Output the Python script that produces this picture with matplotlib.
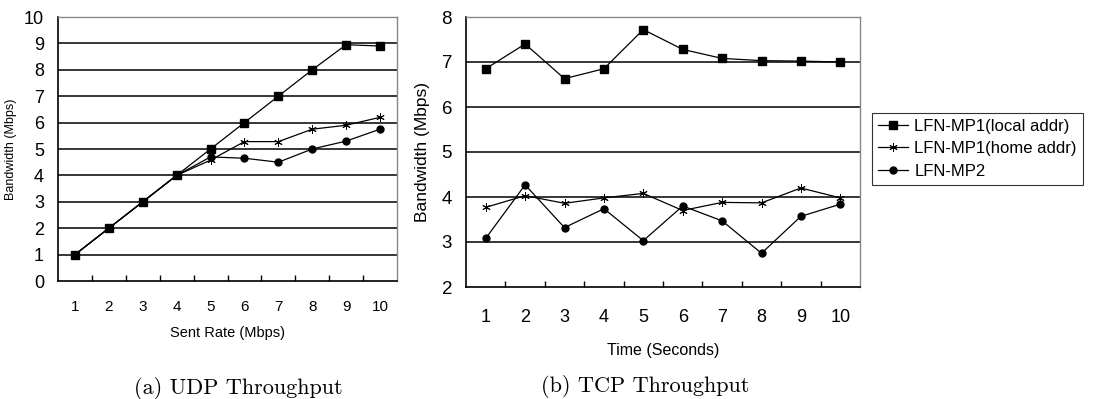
import matplotlib
matplotlib.use('Agg')
from matplotlib import pyplot as plt
import numpy as np

NARROW = ['Liberation Sans Narrow', 'Liberation Sans', 'DejaVu Sans']

# UDP throughput (a)
udp_rate = [1, 2, 3, 4, 5, 6, 7, 8, 9, 10]
udp_local = [1.0, 2.0, 3.0, 4.0, 5.0, 6.0, 7.0, 8.0, 8.95, 8.9]
udp_home = [1.0, 2.0, 3.0, 4.0, 4.58, 5.28, 5.28, 5.75, 5.9, 6.2]
udp_mp2 = [1.0, 2.0, 3.0, 4.0, 4.7, 4.65, 4.5, 5.0, 5.3, 5.75]

# TCP throughput (b)
tcp_time = [1, 2, 3, 4, 5, 6, 7, 8, 9, 10]
tcp_local = [6.85, 7.4, 6.63, 6.85, 7.72, 7.28, 7.08, 7.03, 7.02, 7.0]
tcp_home = [3.77, 4.03, 3.86, 3.98, 4.08, 3.7, 3.88, 3.87, 4.2, 3.98]
tcp_mp2 = [3.08, 4.27, 3.32, 3.74, 3.03, 3.8, 3.47, 2.75, 3.57, 3.84]

series_names = ['LFN-MP1(local addr)', 'LFN-MP1(home addr)', 'LFN-MP2']
markers = ['s', (6, 2, 0), 'o']
msizes = [6, 6, 5]
medges = [1, 0.7, 1]


def style_axes(ax, ymin, ymax, tick_size, xlabel_size, xpad):
    ax.set_xlim(0.5, 10.5)
    ax.set_ylim(ymin, ymax)
    ax.set_yticks(range(ymin, ymax + 1))
    ax.set_xticks(range(1, 11))
    ax.set_xticks(np.arange(1.5, 10.5, 1), minor=True)
    ax.tick_params(axis='x', which='major', length=0, pad=xpad, labelsize=xlabel_size)
    ax.tick_params(axis='x', which='minor', direction='in', length=4, width=1)
    ax.tick_params(axis='y', length=0, pad=10, labelsize=tick_size)
    for lab in ax.get_xticklabels() + ax.get_yticklabels():
        lab.set_family(NARROW)
    for y in range(ymin + 1, ymax):
        ax.axhline(y, color='black', lw=1.1, zorder=1)
    ax.spines['left'].set_color('black')
    ax.spines['bottom'].set_color('black')
    ax.spines['left'].set_linewidth(1.2)
    ax.spines['bottom'].set_linewidth(1.2)
    for s in ['top', 'right']:
        ax.spines[s].set_color('#888888')
        ax.spines[s].set_linewidth(1.0)


fig = plt.figure(figsize=(10.97, 3.99), dpi=100)

ax1 = fig.add_axes([58 / 1097, 1 - 281 / 399, 339 / 1097, 264 / 399])
for vals, m, ms, me in zip([udp_local, udp_home, udp_mp2], markers, msizes, medges):
    ax1.plot(udp_rate, vals, color='black', lw=0.9, marker=m, markersize=ms,
             markeredgewidth=me, zorder=3)
style_axes(ax1, 0, 10, 13, 11, 14)
ax1.set_xlabel('Sent Rate (Mbps)', family=NARROW, fontsize=10.5, labelpad=8)
ax1.set_ylabel('Bandwidth (Mbps)', family=NARROW, fontsize=9, labelpad=5)

ax2 = fig.add_axes([466 / 1097, 1 - 287 / 399, 394 / 1097, 270 / 399])
lines = []
for vals, m, ms, me in zip([tcp_local, tcp_home, tcp_mp2], markers, msizes, medges):
    ln, = ax2.plot(tcp_time, vals, color='black', lw=0.9, marker=m, markersize=ms,
                   markeredgewidth=me, zorder=3)
    lines.append(ln)
style_axes(ax2, 2, 8, 13.5, 13, 16)
ax2.set_xlabel('Time (Seconds)', family=NARROW, fontsize=11.5, labelpad=12)
ax2.set_ylabel('Bandwidth (Mbps)', family=NARROW, fontsize=12.5, labelpad=8)

leg = fig.legend(lines, series_names, loc='upper left',
                 bbox_to_anchor=(872 / 1097, 1 - 113 / 399),
                 prop={'family': NARROW, 'size': 12}, frameon=True, fancybox=False,
                 edgecolor='black', handlelength=1.8, handletextpad=0.4,
                 borderpad=0.35, labelspacing=0.45, borderaxespad=0)
leg.get_frame().set_linewidth(0.8)

fig.text(238 / 1097, 1 - 388 / 399, '(a) UDP Throughput', family='cmr10',
         fontsize=16, ha='center', va='center')
fig.text(645 / 1097, 1 - 386 / 399, '(b) TCP Throughput', family='cmr10',
         fontsize=16, ha='center', va='center')

plt.savefig('out.png', dpi=100)
plt.close()
